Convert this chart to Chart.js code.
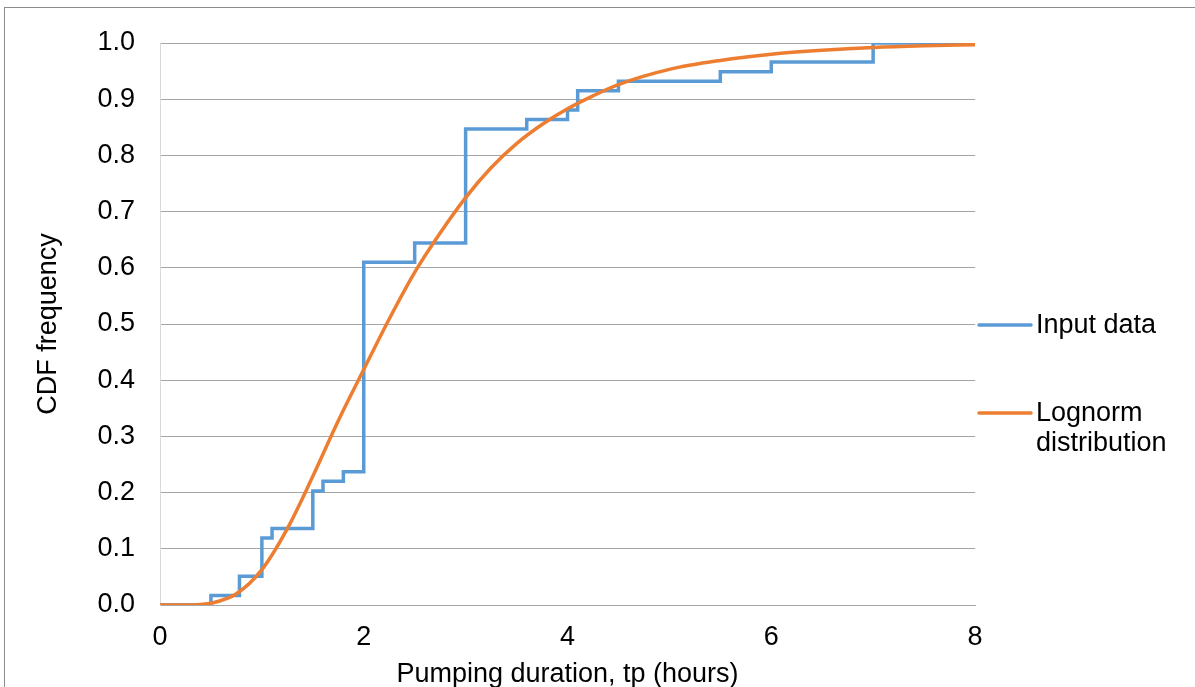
<!DOCTYPE html>
<html>
<head>
<meta charset="utf-8">
<script src="https://cdn.jsdelivr.net/npm/chart.js@4"></script>
<style>
  html, body { margin: 0; padding: 0; background: #fff; overflow: hidden; }
  #wrap { position: relative; width: 1195px; height: 687px; }
  #frame { position: absolute; left: 4px; top: 7px; width: 1400px; height: 900px; border: 1px solid #8c8c8c; pointer-events: none; }
</style>
</head>
<body>
<div id="wrap">
  <canvas id="cdf" width="1195" height="687"></canvas>
  <div id="frame"></div>
</div>
<script>
// Empirical CDF of pumping durations (59 samples), one point per step
const inputHours = [0, 0.5, 0.78, 1.0, 1.1, 1.5, 1.6, 1.8, 2.0, 2.5, 3.0, 3.6, 4.0, 4.1, 4.5, 5.5, 6.0, 7.0, 8.0];
const inputCdf = [0, 0.017, 0.051, 0.119, 0.136, 0.203, 0.220, 0.237, 0.610, 0.644, 0.847, 0.864, 0.881, 0.915, 0.932, 0.949, 0.966, 1.0, 1.0];

// Fitted lognormal curve
const fitHours = [0, 0.25, 0.4, 0.5, 0.75, 1.0, 1.25, 1.5, 1.75, 2.0, 2.25, 2.5, 2.75, 3.0, 3.25, 3.5, 3.75, 4.0, 4.25, 4.5, 5.0, 5.5, 6.0, 6.5, 7.0, 7.5, 8.0];
const fitCdf = [0, 0.000, 0.001, 0.003, 0.020, 0.063, 0.136, 0.229, 0.328, 0.419, 0.509, 0.592, 0.662, 0.725, 0.778, 0.821, 0.855, 0.883, 0.906, 0.926, 0.953, 0.969, 0.980, 0.987, 0.992, 0.995, 0.997];

const seriesNames = ['Input data', 'Lognorm distribution'];
const seriesColors = ['#5B9BD5', '#ED7D31'];

const FONT = "'Liberation Sans', Arial, sans-serif";
const FONT_SIZE = 27;
Chart.defaults.font.family = FONT;
Chart.defaults.color = '#000';

const toPoints = (xs, ys) => xs.map((x, i) => ({ x, y: ys[i] }));

// Legend at the right, with wrapped entry text
const sideLegend = {
  id: 'sideLegend',
  afterDraw(chart) {
    const ctx = chart.ctx;
    const items = [
      { lines: ['Input data'], y: 325, color: seriesColors[0] },
      { lines: ['Lognorm', 'distribution'], y: 413, color: seriesColors[1] }
    ];
    ctx.save();
    ctx.font = FONT_SIZE + 'px ' + FONT;
    ctx.textBaseline = 'middle';
    ctx.textAlign = 'left';
    items.forEach(it => {
      ctx.strokeStyle = it.color;
      ctx.lineWidth = 3.5;
      ctx.lineCap = 'round';
      ctx.beginPath();
      ctx.moveTo(979, it.y);
      ctx.lineTo(1031, it.y);
      ctx.stroke();
      ctx.fillStyle = '#000';
      it.lines.forEach((t, k) => ctx.fillText(t, 1036, it.y + 1 + k * 30));
    });
    ctx.restore();
  }
};

new Chart(document.getElementById('cdf'), {
  type: 'line',
  data: {
    datasets: [
      {
        label: seriesNames[0],
        data: toPoints(inputHours, inputCdf),
        borderColor: seriesColors[0],
        borderWidth: 3.5,
        stepped: 'before',
        pointRadius: 0,
        order: 1
      },
      {
        label: seriesNames[1],
        data: toPoints(fitHours, fitCdf),
        borderColor: seriesColors[1],
        borderWidth: 3.5,
        cubicInterpolationMode: 'monotone',
        pointRadius: 0,
        order: 0
      }
    ]
  },
  options: {
    responsive: false,
    animation: false,
    layout: { padding: { left: 0, top: 43, right: 220, bottom: 0 } },
    plugins: { legend: { display: false }, tooltip: { enabled: false } },
    scales: {
      x: {
        type: 'linear',
        min: 0, max: 8,
        grid: { display: false, drawTicks: false },
        border: { color: '#a6a6a6', width: 1 },
        ticks: { stepSize: 2, padding: 16, font: { size: FONT_SIZE }, color: '#000' },
        title: { display: true, text: 'Pumping duration, tp (hours)', font: { size: FONT_SIZE }, color: '#000', padding: { top: 0, bottom: -4 } },
        afterFit: s => { s.height = 82; }
      },
      y: {
        min: 0, max: 1,
        grid: { color: '#a6a6a6', lineWidth: 1, drawTicks: false },
        border: { color: '#d9d9d9', width: 1 },
        ticks: { stepSize: 0.1, padding: 25, font: { size: FONT_SIZE }, color: '#000', callback: v => v.toFixed(1) },
        title: { display: true, text: 'CDF frequency', font: { size: FONT_SIZE }, color: '#000', padding: { top: 32, bottom: 0 } },
        afterFit: s => { s.width = 160; }
      }
    }
  },
  plugins: [sideLegend]
});
</script>
</body>
</html>
